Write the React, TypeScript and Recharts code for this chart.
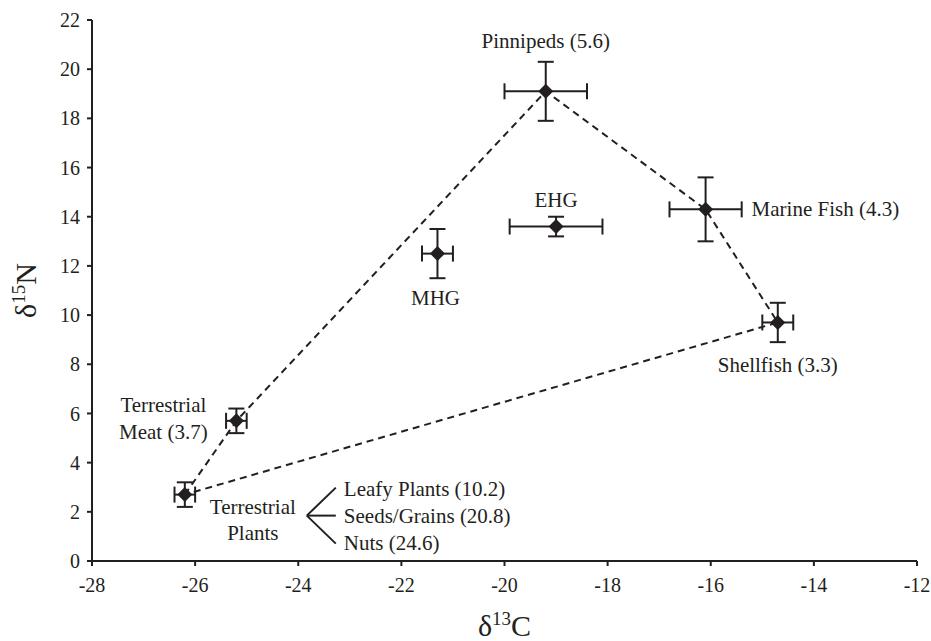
import {
  ScatterChart,
  Scatter,
  XAxis,
  YAxis,
  ErrorBar,
  Label,
} from "recharts";

// Food sources and archaeological groups (mean ± SD)
const sources = [
  "Terrestrial Plants",
  "Terrestrial Meat",
  "Pinnipeds",
  "EHG",
  "MHG",
  "Marine Fish",
  "Shellfish",
];
const d13C = [-26.2, -25.2, -19.2, -19.0, -21.3, -16.1, -14.7];
const d15N = [2.7, 5.7, 19.1, 13.6, 12.5, 14.3, 9.7];
const sdC = [0.2, 0.2, 0.8, 0.9, 0.3, 0.7, 0.3];
const sdN = [0.5, 0.5, 1.2, 0.4, 1.0, 1.3, 0.8];

const sourceLabels = [
  ["Terrestrial", "Plants"],
  ["Terrestrial", "Meat (3.7)"],
  ["Pinnipeds (5.6)"],
  ["EHG"],
  ["MHG"],
  ["Marine Fish (4.3)"],
  ["Shellfish (3.3)"],
];
const plantTypes = ["Leafy Plants (10.2)", "Seeds/Grains (20.8)", "Nuts (24.6)"];

// mixing polygon drawn through these sources, in order
const hullOrder = [
  "Terrestrial Plants",
  "Terrestrial Meat",
  "Pinnipeds",
  "Marine Fish",
  "Shellfish",
  "Terrestrial Plants",
];

const xTicks = [-28, -26, -24, -22, -20, -18, -16, -14, -12];
const yTicks = [0, 2, 4, 6, 8, 10, 12, 14, 16, 18, 20, 22];

const INK = "#231f20";
const FONT = "Liberation Serif";

const points = sources.map((name, i) => ({
  name,
  x: d13C[i],
  y: d15N[i],
  ex: sdC[i],
  ey: sdN[i],
  lines: sourceLabels[i],
}));

const hull = hullOrder.map((n) => points.find((p) => p.name === n)!);

// label placement relative to the marker centre (px)
const labelPos: Record<string, { dx: number; dy: number; gap: number; anchor: string }> = {
  "Terrestrial Plants": { dx: 68, dy: 12, gap: 26, anchor: "middle" },
  "Terrestrial Meat": { dx: -73, dy: -16, gap: 27, anchor: "middle" },
  Pinnipeds: { dx: 0, dy: -50, gap: 0, anchor: "middle" },
  EHG: { dx: 0, dy: -27, gap: 0, anchor: "middle" },
  MHG: { dx: -2, dy: 44, gap: 0, anchor: "middle" },
  "Marine Fish": { dx: 46, dy: 0, gap: 0, anchor: "start" },
  Shellfish: { dx: 0, dy: 43, gap: 0, anchor: "middle" },
};

const Diamond = (props: any) => {
  const { cx, cy, payload } = props;
  if (cx == null || cy == null) return <g />;
  const r = 7.5;
  const pos = labelPos[payload.name];
  return (
    <g>
      <polygon
        points={`${cx - r},${cy} ${cx},${cy - r} ${cx + r},${cy} ${cx},${cy + r}`}
        fill={INK}
      />
      {payload.lines.map((t: string, i: number) => (
        <text
          key={t}
          x={cx + pos.dx}
          y={cy + pos.dy + i * pos.gap}
          textAnchor={pos.anchor}
          dominantBaseline="central"
          style={{ fontFamily: FONT }}
          fontSize={21}
          fill={INK}
        >
          {t}
        </text>
      ))}
      {payload.name === "Terrestrial Plants" && (
        <g>
          {[-28, 0, 28].map((o) => (
            <line
              key={o}
              x1={cx + 122}
              y1={cy + 21}
              x2={cx + 151}
              y2={cy + 21 + o}
              stroke={INK}
              strokeWidth={2}
            />
          ))}
          {plantTypes.map((t, i) => (
            <text
              key={t}
              x={cx + 159}
              y={cy - 6 + i * 27}
              dominantBaseline="central"
              style={{ fontFamily: FONT }}
              fontSize={21}
              fill={INK}
            >
              {t}
            </text>
          ))}
        </g>
      )}
    </g>
  );
};

const NoMark = () => <g />;

export default function App() {
  return (
    <div style={{ width: 931, height: 641, background: "#fff", fontFamily: FONT }}>
      <style>{"body{margin:0} svg text{font-family:'Liberation Serif',serif}"}</style>
      <ScatterChart
        width={931}
        height={641}
        margin={{ top: 20, right: 14, bottom: 0, left: 32 }}
      >
        <XAxis
          type="number"
          dataKey="x"
          domain={[-28, -12]}
          ticks={xTicks}
          interval={0}
          height={80}
          tickSize={5}
          tickMargin={12}
          axisLine={{ stroke: INK, strokeWidth: 2 }}
          tickLine={{ stroke: INK, strokeWidth: 2 }}
          tick={{ fontSize: 20, fill: INK }}
        >
          <Label
            content={(p: any) => {
              const vb = p.viewBox;
              return (
                <text
                  x={vb.x + vb.width / 2}
                  y={vb.y + 75}
                  textAnchor="middle"
                  fontSize={30}
                  fill={INK}
                >
                  δ<tspan fontSize={19} dy={-11}>13</tspan>
                  <tspan dy={11}>C</tspan>
                </text>
              );
            }}
          />
        </XAxis>
        <YAxis
          type="number"
          dataKey="y"
          domain={[0, 22]}
          ticks={yTicks}
          interval={0}
          width={60}
          tickSize={5}
          tickMargin={7}
          axisLine={{ stroke: INK, strokeWidth: 2 }}
          tickLine={{ stroke: INK, strokeWidth: 2 }}
          tick={{ fontSize: 20, fill: INK }}
        >
          <Label
            content={(p: any) => {
              const vb = p.viewBox;
              const cy = vb.y + vb.height / 2;
              return (
                <text
                  x={36}
                  y={cy}
                  transform={`rotate(-90, 36, ${cy})`}
                  textAnchor="middle"
                  fontSize={30}
                  fill={INK}
                >
                  δ<tspan fontSize={19} dy={-11}>15</tspan>
                  <tspan dy={11}>N</tspan>
                </text>
              );
            }}
          />
        </YAxis>
        <Scatter
          data={hull}
          shape={NoMark}
          line={{ stroke: INK, strokeWidth: 2, strokeDasharray: "7 5" }}
          isAnimationActive={false}
        />
        <Scatter data={points} shape={Diamond} isAnimationActive={false}>
          <ErrorBar
            dataKey="ex"
            direction="x"
            width={8}
            stroke={INK}
            strokeWidth={2}
            isAnimationActive={false}
          />
          <ErrorBar
            dataKey="ey"
            direction="y"
            width={8}
            stroke={INK}
            strokeWidth={2}
            isAnimationActive={false}
          />
        </Scatter>
      </ScatterChart>
    </div>
  );
}
